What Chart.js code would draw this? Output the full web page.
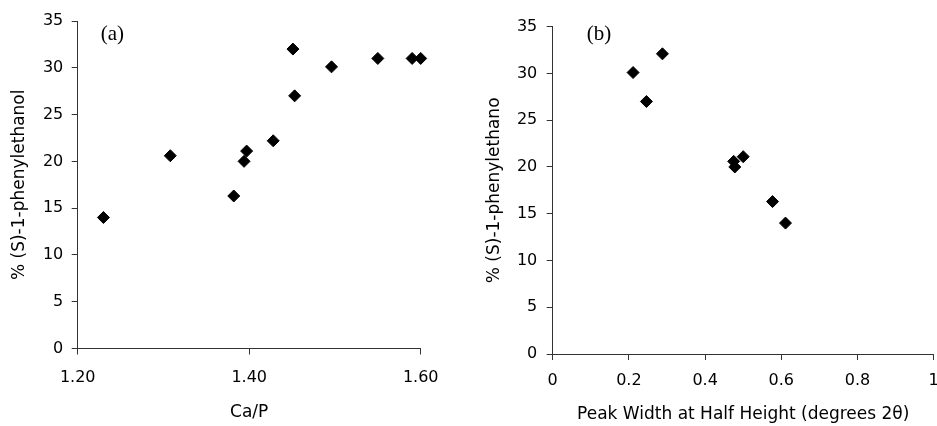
<!DOCTYPE html>
<html>
<head>
<meta charset="utf-8">
<script src="https://cdn.jsdelivr.net/npm/chart.js@4.4.1/dist/chart.umd.min.js"></script>
<style>
  html, body { margin: 0; padding: 0; background: #fff; overflow: hidden; }
  #wrap { position: relative; width: 937px; height: 426px; overflow: hidden; }
  #chartA { position: absolute; left: 0; top: 0; }
  #chartB { position: absolute; left: 470px; top: 0; }
</style>
</head>
<body>
<div id="wrap">
  <canvas id="chartA" width="470" height="426"></canvas>
  <canvas id="chartB" width="480" height="426"></canvas>
</div>
<script>
// panel (a): Ca/P ratio vs % (S)-1-phenylethanol
const caP = [1.230, 1.308, 1.382, 1.394, 1.397, 1.428, 1.451, 1.453, 1.496, 1.550, 1.590, 1.600, 1.601];
const yieldA = [14.0, 20.6, 16.3, 20.0, 21.1, 22.2, 32.0, 27.0, 30.1, 31.0, 31.0, 31.0, 30.5];

// panel (b): peak width at half height vs % (S)-1-phenylethanol
const peakWidth = [0.211, 0.288, 0.246, 0.475, 0.478, 0.500, 0.577, 0.611];
const yieldB = [30.1, 32.1, 27.0, 20.6, 20.0, 21.1, 16.3, 14.0];

const yTicks = [0, 5, 10, 15, 20, 25, 30, 35];
const xTicksA = [1.20, 1.40, 1.60];
const xTicksB = [0, 0.2, 0.4, 0.6, 0.8, 1];

const sans = '"DejaVu Sans", Arial, sans-serif';
const axisColor = '#333';

const panelLabel = {
  id: 'panelLabel',
  afterDraw(chart, args, opts) {
    const { ctx, chartArea } = chart;
    ctx.save();
    ctx.font = '21px "Liberation Serif", "Times New Roman", serif';
    ctx.fillStyle = '#000';
    ctx.textBaseline = 'alphabetic';
    ctx.fillText(opts.text, chartArea.left + opts.dx, chartArea.top + opts.dy);
    ctx.restore();
  }
};

function toPoints(xs, ys) {
  return xs.map((x, i) => ({ x, y: ys[i] }));
}

function makeChart(id, cfg) {
  const fixTicks = vals => scale => {
    scale.ticks = vals.map(v => ({ value: v }));
  };
  return new Chart(document.getElementById(id), {
    type: 'scatter',
    data: {
      datasets: [{
        data: toPoints(cfg.xs, cfg.ys),
        pointStyle: 'rectRot',
        pointRadius: 6,
        pointBorderWidth: 1,
        backgroundColor: '#000',
        borderColor: '#000',
        clip: false
      }]
    },
    options: {
      responsive: false,
      animation: false,
      layout: { padding: { top: cfg.top, right: cfg.right, left: 0, bottom: 0 } },
      plugins: {
        legend: { display: false },
        tooltip: { enabled: false },
        panelLabel: { text: cfg.label, dx: cfg.labelDx, dy: cfg.labelDy }
      },
      scales: {
        x: {
          type: 'linear',
          min: cfg.xMin,
          max: cfg.xMax,
          afterBuildTicks: fixTicks(cfg.xTicks),
          afterFit: s => { s.height = 426 - cfg.bottom; },
          border: { color: axisColor, width: 1 },
          grid: { drawOnChartArea: false, color: axisColor, tickLength: 6 },
          ticks: {
            color: '#000',
            font: { family: sans, size: 16 },
            padding: cfg.xPad,
            maxRotation: 0,
            callback: cfg.xFmt
          },
          title: {
            display: true,
            text: cfg.xTitle,
            color: '#000',
            font: { family: sans, size: 17 },
            padding: { top: 0, bottom: cfg.xTitlePad }
          }
        },
        y: {
          min: 0,
          max: 35,
          afterBuildTicks: fixTicks(yTicks),
          afterFit: s => { s.width = cfg.left; },
          border: { color: axisColor, width: 1 },
          grid: { drawOnChartArea: false, color: axisColor, tickLength: 6 },
          ticks: {
            color: '#000',
            font: { family: sans, size: 16 },
            padding: cfg.yPad
          },
          title: {
            display: true,
            text: cfg.yTitle,
            color: '#000',
            font: { family: sans, size: 17 },
            padding: { top: cfg.yTitlePad, bottom: 0 }
          }
        }
      }
    },
    plugins: [panelLabel]
  });
}

makeChart('chartA', {
  xs: caP, ys: yieldA,
  xMin: 1.2, xMax: 1.6, xTicks: xTicksA,
  xFmt: v => Number(v).toFixed(2),
  xTitle: 'Ca/P',
  yTitle: '% (S)-1-phenylethanol',
  left: 77.7, top: 21, right: 49.3, bottom: 348.5,
  xPad: 13.4, yPad: 8.4, xTitlePad: 2.8, yTitlePad: 9.5,
  label: '(a)', labelDx: 23, labelDy: 18.6
});

makeChart('chartB', {
  xs: peakWidth, ys: yieldB,
  xMin: 0, xMax: 1, xTicks: xTicksB,
  xFmt: v => String(Math.round(v * 10) / 10),
  xTitle: 'Peak Width at Half Height (degrees 2\u03b8)',
  yTitle: '% (S)-1-phenylethano',
  left: 82.7, top: 26.7, right: 15.7, bottom: 354,
  xPad: 11.2, yPad: 9.4, xTitlePad: 0.8, yTitlePad: 14,
  label: '(b)', labelDx: 34, labelDy: 12.9
});
</script>
</body>
</html>
